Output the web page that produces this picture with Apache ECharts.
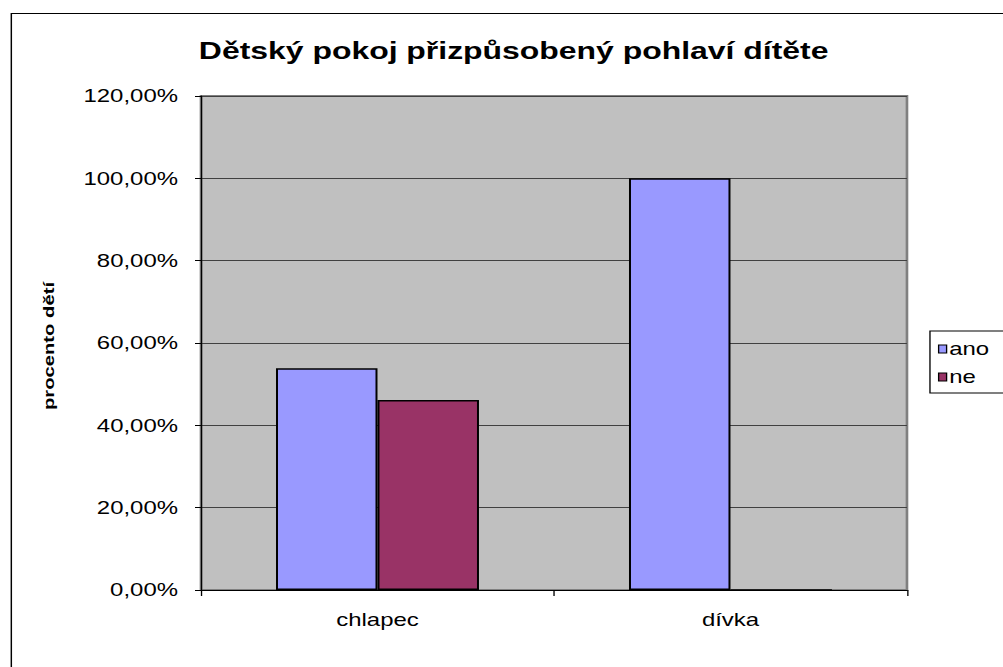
<!DOCTYPE html>
<html>
<head>
<meta charset="utf-8">
<script src="https://cdn.jsdelivr.net/npm/echarts@6/dist/echarts.min.js"></script>
<style>
html,body{margin:0;padding:0;background:#fff;overflow:hidden;width:1003px;height:667px;}
#c{width:754px;height:667px;transform:scaleX(1.3302);transform-origin:0 0;}
</style>
</head>
<body>
<div id="c"></div>
<script>
const categories = ['chlapec', 'dívka'];
const seriesNames = ['ano', 'ne'];
const anoValues = [0.5385, 1.0];
const neValues = [0.4615, 0];
const yTicks = [0, 0.2, 0.4, 0.6, 0.8, 1.0, 1.2];
const titleText = 'Dětský pokoj přizpůsobený pohlaví dítěte';
const yAxisName = 'procento dětí';

const S = 1003 / 754; // horizontal stretch of the container
const X = v => v / S;  // reference x -> chart x

const chart = echarts.init(document.getElementById('c'), null, { renderer: 'svg' });
const fontFam = 'Liberation Sans, Arial, sans-serif';
chart.setOption({
  backgroundColor: '#fff',
  animation: false,
  title: {
    text: titleText,
    left: X(507), top: 33, textAlign: 'center',
    textStyle: { fontFamily: fontFam, fontSize: 24, fontWeight: 'bold', color: '#000' }
  },
  graphic: [{
    type: 'rect', left: X(8), top: 11, silent: true, z: -1,
    shape: { width: 1000, height: 1000 },
    style: { fill: 'none', stroke: '#000', lineWidth: 1.1 }
  }, {
    type: 'text', x: X(49), y: 346, rotation: Math.PI / 2, scaleX: 1.19, scaleY: 0.62,
    silent: true,
    style: { text: yAxisName, fontFamily: fontFam, fontSize: 17, fontWeight: 'bold',
             fill: '#000', align: 'center', verticalAlign: 'middle' }
  }],
  legend: {
    orient: 'vertical', left: X(930), top: 331,
    data: seriesNames,
    borderColor: '#000', borderWidth: 1,
    padding: [9, 40, 7, 6],
    itemWidth: 6, itemHeight: 8, itemGap: 10,
    icon: 'rect',
    itemStyle: { borderColor: '#000', borderWidth: 1 },
    textStyle: { fontFamily: fontFam, fontSize: 18, color: '#000', padding: [0, 0, 0, -3] }
  },
  grid: {
    left: X(201), top: 96, right: X(96), bottom: 77,
    show: true, backgroundColor: '#C0C0C0', borderColor: '#808080', borderWidth: 2
  },
  xAxis: {
    type: 'category', data: categories,
    axisLine: { lineStyle: { color: '#000', width: 1 } },
    axisTick: { show: true, length: 6, lineStyle: { color: '#000' } },
    axisLabel: { fontFamily: fontFam, fontSize: 18, color: '#000', margin: 21 }
  },
  yAxis: {
    type: 'value', min: yTicks[0], max: yTicks[yTicks.length - 1], interval: 0.2,
    axisLine: { show: true, lineStyle: { color: '#000', width: 1 } },
    axisTick: { show: true, length: X(6), lineStyle: { color: '#000' } },
    splitLine: { show: true, lineStyle: { color: '#404040', width: 1 } },
    axisLabel: {
      fontFamily: fontFam, fontSize: 18, color: '#000', margin: X(23),
      formatter: v => (v * 100).toFixed(2).replace('.', ',') + '%'
    }
  },
  series: [
    { name: seriesNames[0], type: 'bar', data: anoValues, barGap: '0%', barCategoryGap: '42.5%',
      itemStyle: { color: '#9999FF', borderColor: '#000', borderWidth: 1.5 } },
    { name: seriesNames[1], type: 'bar', data: neValues,
      itemStyle: { color: '#993366', borderColor: '#000', borderWidth: 1.5 } }
  ]
});
</script>
</body>
</html>
